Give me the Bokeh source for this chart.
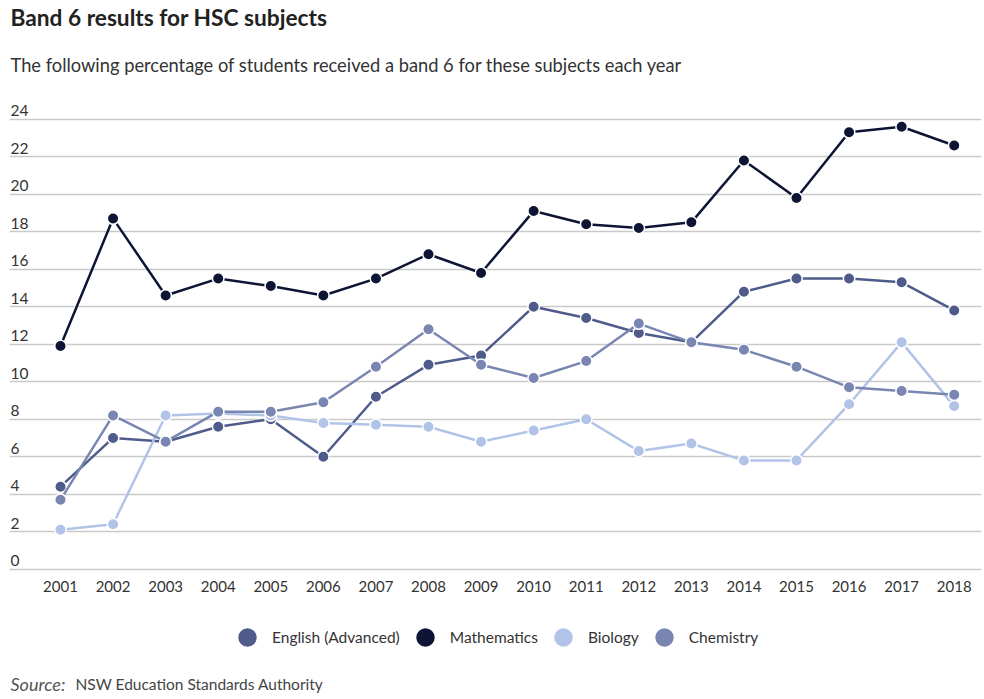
from bokeh.plotting import figure
from bokeh.models import (Label, Legend, LegendItem, FixedTicker, Grid, ColumnDataSource, Range1d)
from bokeh.core.properties import value
from bokeh.embed import file_html
from bokeh.resources import INLINE

years = list(range(2001, 2019))
english = [4.4, 7.0, 6.8, 7.6, 8.0, 6.0, 9.2, 10.9, 11.4, 14.0, 13.4, 12.6, 12.1, 14.8, 15.5, 15.5, 15.3, 13.8]
mathematics = [11.9, 18.7, 14.6, 15.5, 15.1, 14.6, 15.5, 16.8, 15.8, 19.1, 18.4, 18.2, 18.5, 21.8, 19.8, 23.3, 23.6, 22.6]
biology = [2.1, 2.4, 8.2, 8.3, 8.2, 7.8, 7.7, 7.6, 6.8, 7.4, 8.0, 6.3, 6.7, 5.8, 5.8, 8.8, 12.1, 8.7]
chemistry = [3.7, 8.2, 6.8, 8.4, 8.4, 8.9, 10.8, 12.8, 10.9, 10.2, 11.1, 13.1, 12.1, 11.7, 10.8, 9.7, 9.5, 9.3]
y_ticks = [0, 2, 4, 6, 8, 10, 12, 14, 16, 18, 20, 22, 24]

series_names = ["English (Advanced)", "Mathematics", "Biology", "Chemistry"]
series_values = [english, mathematics, biology, chemistry]
series_colors = ["#4f5b8a", "#0e1534", "#b1c3e7", "#7a86b2"]

FONT = "Lato"

# frame spans the full height; x from page 9 to 981
x0, x1 = 2000.0299, 2018.519
y0, y1 = -6.949, 30.331
p = figure(width=984, height=699, output_backend="svg", toolbar_location=None,
           x_range=Range1d(x0, x1), y_range=Range1d(y0, y1),
           x_axis_location=None, y_axis_location=None,
           min_border_left=9, min_border_right=3, min_border_top=0, min_border_bottom=0)
p.outline_line_color = None
p.xgrid.visible = False
p.ygrid.visible = False
p.background_fill_color = "white"
p.border_fill_color = "white"

grid = Grid(dimension=1, ticker=FixedTicker(ticks=y_ticks), grid_line_color="#c9c9c9", grid_line_width=1.3)
p.add_layout(grid, "center")

# y tick labels drawn above gridlines
ysrc = ColumnDataSource(dict(x=[x0] * len(y_ticks), y=y_ticks, t=[str(v) for v in y_ticks]))
p.text(x="x", y="y", text="t", source=ysrc, text_font=value(FONT), text_font_size="15.5px",
       text_color="#333333", text_baseline="bottom", text_align="left", x_offset=1, y_offset=-3)

# x tick labels below the zero line
xsrc = ColumnDataSource(dict(x=years, y=[0] * len(years), t=[str(v) for v in years]))
p.text(x="x", y="y", text="t", source=xsrc, text_font=value(FONT), text_font_size="15px",
       text_color="#333333", text_baseline="middle", text_align="center", y_offset=17)

items = []
for name, vals, col in zip(series_names, series_values, series_colors):
    src = ColumnDataSource(dict(x=years, y=vals))
    p.line("x", "y", source=src, line_color=col, line_width=2.5)
    r = p.scatter("x", "y", source=src, size=11.5, fill_color=col, line_color="white", line_width=1.5)
    items.append(LegendItem(label=name, renderers=[r]))

legend = Legend(items=items, orientation="horizontal", location=(213, 37),
                glyph_width=50, glyph_height=50, label_standoff=0, spacing=0,
                padding=0, margin=0, border_line_color=None, background_fill_alpha=0,
                label_text_font=FONT, label_text_font_size="15.5px", label_text_color="#333333")
p.add_layout(legend, "center")

def lab(text, x, y, size, style="normal", color="#222222"):
    p.add_layout(Label(x=x, y=y, x_units="screen", y_units="screen", text=text,
                       text_font=FONT, text_font_size=size, text_font_style=style,
                       text_color=color, text_baseline="middle", text_align="left"))

lab("Band 6 results for HSC subjects", 1, 682, "22.7px", "bold", "#222222")
lab("The following percentage of students received a band 6 for these subjects each year", 1, 635, "18.3px", "normal", "#333333")
lab("Source:", 1, 16, "18px", "italic", "#555555")
lab("NSW Education Standards Authority", 66, 16, "15.5px", "normal", "#444444")

open("out.html", "w").write(file_html(p, INLINE))
